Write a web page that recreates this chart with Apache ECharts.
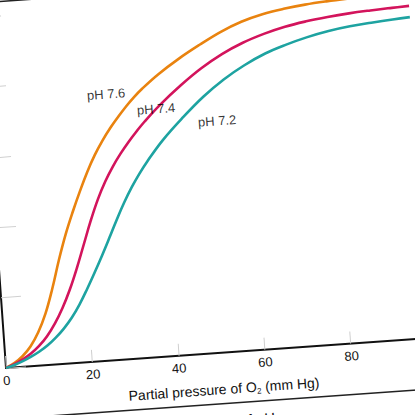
<!DOCTYPE html>
<html>
<head>
<meta charset="utf-8">
<script src="https://cdn.jsdelivr.net/npm/echarts@6/dist/echarts.min.js"></script>
<style>
  html, body { margin: 0; padding: 0; width: 415px; height: 415px; overflow: hidden; background: #ffffff; }
  #wrap {
    position: absolute; left: -54px; top: -24px; width: 532px; height: 472px;
    transform-origin: 60px 392px; transform: rotate(-4.06deg);
  }
</style>
</head>
<body>
<div id="wrap"></div>
<script>
// Partial pressure of O2 (mm Hg), shared by all curves
const pressure = [0, 2, 4, 6, 8, 10, 12, 14, 16, 18, 20, 22, 24, 26, 28, 30, 32, 34, 36, 40, 45, 50, 55, 60, 65, 70, 75, 80, 85, 90, 95, 99];
// % saturation
const sat76 = [0, 1.2, 3.0, 5.6, 9.4, 14.6, 21.6, 29.6, 36.8, 43.0, 48.7, 54.0, 58.6, 62.5, 65.9, 68.9, 71.7, 74.2, 76.4, 80.2, 84.2, 87.7, 90.9, 93.4, 95.1, 96.2, 96.95, 97.45, 97.8, 98.05, 98.2, 98.3];
const sat74 = [0, 0.9, 2.1, 3.6, 5.6, 8.2, 11.6, 15.8, 20.9, 26.9, 33.5, 40.1, 46.0, 50.9, 55.0, 58.5, 61.6, 64.4, 67.0, 71.6, 76.6, 81.0, 84.6, 87.4, 89.5, 91.1, 92.2, 93.0, 93.6, 94.0, 94.3, 94.5];
const sat72 = [0, 0.7, 1.6, 2.7, 4.0, 5.6, 7.6, 10.0, 12.9, 16.5, 20.7, 25.2, 29.9, 34.8, 39.8, 44.5, 48.7, 52.4, 55.7, 61.5, 67.5, 72.9, 77.4, 81.0, 83.9, 86.0, 87.7, 89.0, 89.9, 90.5, 91.0, 91.3];

const curveNames = ['pH 7.6', 'pH 7.4', 'pH 7.2'];
const xTicks = [0, 20, 40, 60, 80, 100];
const yTicks = [0, 20, 40, 60, 80, 100];

// Where each curve label sits, in data units
const labelX = [27.6, 38.9, 52.8];
const labelY = [75.6, 70.4, 65.8];

const colors = ['#e9830f', '#d3145c', '#1ea3a1'];

function zip(xs, ys) { return xs.map((x, i) => [x, ys[i]]); }

const chart = echarts.init(document.getElementById('wrap'), null, { renderer: 'svg' });

const lineSeries = [sat76, sat74, sat72].map((s, i) => ({
  type: 'line',
  name: curveNames[i],
  data: zip(pressure, s),
  showSymbol: false,
  smooth: 0.4,
  lineStyle: { color: colors[i], width: 2.6 },
  itemStyle: { color: colors[i] },
  silent: true,
  z: 3
}));

const option = {
  animation: false,
  backgroundColor: '#ffffff',
  grid: { left: 60, top: 40, width: 432, height: 352, containLabel: false },
  xAxis: {
    type: 'value', min: xTicks[0], max: xTicks[xTicks.length - 1], interval: 20,
    axisLine: { show: true, lineStyle: { color: '#111', width: 2 } },
    axisTick: { show: true, inside: true, length: 12, lineStyle: { color: '#cfcfcf', width: 1 } },
    axisLabel: { color: '#111', fontSize: 13, margin: 6, showMaxLabel: false, fontFamily: 'Liberation Sans, Arial, sans-serif' },
    splitLine: { show: false },
    name: 'Partial pressure of O{s|2} (mm Hg)',
    nameLocation: 'middle',
    nameGap: 28,
    nameTextStyle: {
      color: '#111', fontSize: 14, fontFamily: 'Liberation Sans, Arial, sans-serif',
      rich: { s: { fontSize: 8, padding: [9, 0, 0, 0], color: '#111', fontFamily: 'Liberation Sans, Arial, sans-serif' } }
    }
  },
  yAxis: {
    type: 'value', min: yTicks[0], max: yTicks[yTicks.length - 1], interval: 20,
    axisLine: { show: true, lineStyle: { color: '#111', width: 2 } },
    axisTick: { show: true, inside: true, length: 20, lineStyle: { color: '#d0d0d0', width: 1 } },
    axisLabel: { show: false },
    splitLine: { show: false }
  },
  series: lineSeries.concat([{
    type: 'scatter',
    name: 'labels',
    symbolSize: 1,
    itemStyle: { color: 'rgba(0,0,0,0)' },
    silent: true,
    data: curveNames.map((n, i) => ({ name: n, value: [labelX[i], labelY[i]] })),
    label: {
      show: true, position: 'inside', formatter: '{b}',
      color: '#000', fontSize: 13, fontFamily: 'Liberation Sans, Arial, sans-serif'
    },
    z: 5
  }]),
  graphic: [
    { type: 'line', shape: { x1: 0, y1: 26, x2: 532, y2: 26 }, style: { stroke: '#222', lineWidth: 1.5 } },
    { type: 'line', shape: { x1: 0, y1: 443, x2: 532, y2: 443 }, style: { stroke: '#222', lineWidth: 1.5 } },
    { type: 'text', x: 286, y: 453, style: { text: 'Effect of pH', fill: '#111', fontSize: 15, align: 'center', verticalAlign: 'top', fontFamily: 'Liberation Sans, Arial, sans-serif' } }
  ]
};

chart.setOption(option);
</script>
</body>
</html>
